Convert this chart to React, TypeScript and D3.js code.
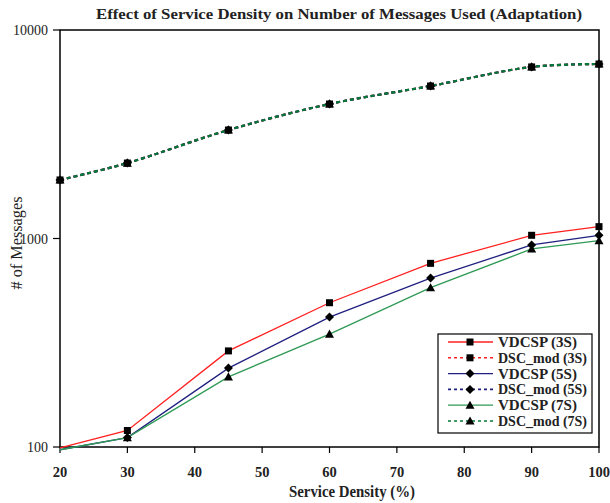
import React from "react";
import * as d3 from "d3";

// Service density (%) along the x axis
const densities = [20, 30, 45, 60, 75, 90, 100];

// Number of messages used for each configuration
const vdcsp3S = [99, 120, 289, 492, 760, 1036, 1140];
const dscMod3S = [1909, 2301, 3314, 4416, 5389, 6651, 6871];
const vdcsp5S = [97, 111, 239, 420, 646, 931, 1036];
const dscMod5S = [1909, 2301, 3314, 4416, 5389, 6651, 6871];
const vdcsp7S = [97, 111, 217, 348, 581, 891, 976];
const dscMod7S = [1909, 2301, 3314, 4416, 5389, 6651, 6871];

const xTicks = [20, 30, 40, 50, 60, 70, 80, 90, 100];
const yTicks = [100, 1000, 10000];

type Marker = "square" | "diamond" | "triangle";

interface Series {
  name: string;
  values: number[];
  color: string;
  dashed: boolean;
  marker: Marker;
}

const series: Series[] = [
  { name: "VDCSP (3S)", values: vdcsp3S, color: "#ff2020", dashed: false, marker: "square" },
  { name: "DSC_mod (3S)", values: dscMod3S, color: "#ff2020", dashed: true, marker: "square" },
  { name: "VDCSP (5S)", values: vdcsp5S, color: "#202080", dashed: false, marker: "diamond" },
  { name: "DSC_mod (5S)", values: dscMod5S, color: "#202080", dashed: true, marker: "diamond" },
  { name: "VDCSP (7S)", values: vdcsp7S, color: "#2e9a55", dashed: false, marker: "triangle" },
  { name: "DSC_mod (7S)", values: dscMod7S, color: "#007a35", dashed: true, marker: "triangle" },
];

const W = 610;
const H = 503;
const margin = { left: 60, right: 11, top: 30, bottom: 56 };
const FONT = "'Liberation Serif', 'Times New Roman', serif";

function MarkerShape({ kind, x, y }: { kind: Marker; x: number; y: number }) {
  if (kind === "square") {
    return <rect x={x - 3.5} y={y - 3.5} width={7} height={7} fill="#000" />;
  }
  if (kind === "diamond") {
    const r = 4.5;
    return <path d={`M${x},${y - r}L${x + r},${y}L${x},${y + r}L${x - r},${y}Z`} fill="#000" />;
  }
  const r = 4.5;
  return <path d={`M${x},${y - r}L${x + r},${y + r * 0.8}L${x - r},${y + r * 0.8}Z`} fill="#000" />;
}

export default function App() {
  const x = d3.scaleLinear().domain([20, 100]).range([margin.left, W - margin.right]);
  const y = d3.scaleLog().domain([100, 10000]).range([H - margin.bottom, margin.top]);
  const x0 = x.range()[0];
  const x1 = x.range()[1];
  const y0 = y.range()[0];
  const y1 = y.range()[1];

  const solidLine = d3
    .line<number>()
    .x((_, i) => x(densities[i]))
    .y((v) => y(v))
    .curve(d3.curveLinear);
  const smoothLine = d3
    .line<number>()
    .x((_, i) => x(densities[i]))
    .y((v) => y(v))
    .curve(d3.curveCatmullRom.alpha(0.5));

  const legend = { x: 438, y: 334, w: 154, h: 99, row: 15.8 };

  return (
    <svg
      width={W}
      height={H}
      style={{ position: "absolute", left: 0, top: 0, background: "#fff" }}
      fontFamily={FONT}
    >
      <rect width={W} height={H} fill="#fff" />
      {/* title */}
      <text
        x={339}
        y={19}
        textAnchor="middle"
        fontSize={15}
        fontWeight="bold"
        fill="#222"
        textLength={486}
        lengthAdjust="spacingAndGlyphs"
      >
        Effect of Service Density on Number of Messages Used (Adaptation)
      </text>

      {/* plot frame */}
      <rect x={x0} y={y1} width={x1 - x0} height={y0 - y1} fill="none" stroke="#000" strokeWidth={1.5} />

      {/* y ticks */}
      {yTicks.map((t) => (
        <g key={t}>
          <line x1={x0 - 7} x2={x0} y1={y(t)} y2={y(t)} stroke="#000" strokeWidth={1.2} />
          <text x={x0 - 12} y={y(t) + 5} textAnchor="end" fontSize={14} fill="#222">
            {t}
          </text>
        </g>
      ))}

      {/* x ticks */}
      {xTicks.map((t) => (
        <g key={t}>
          <line x1={x(t)} x2={x(t)} y1={y0} y2={y0 + 6} stroke="#000" strokeWidth={1.2} />
          <text x={x(t)} y={477} textAnchor="middle" fontSize={14.5} fontWeight="bold" fill="#222">
            {t}
          </text>
        </g>
      ))}

      {/* axis titles */}
      <text
        x={352}
        y={497}
        textAnchor="middle"
        fontSize={16}
        fontWeight="bold"
        fill="#222"
        textLength={126}
        lengthAdjust="spacingAndGlyphs"
      >
        Service Density (%)
      </text>
      <text
        transform={`translate(22,243) rotate(-90)`}
        textAnchor="middle"
        fontSize={16}
        fill="#222"
        textLength={93}
        lengthAdjust="spacingAndGlyphs"
      >
        # of Messages
      </text>

      {/* series lines */}
      {series.map((s) => (
        <path
          key={s.name}
          d={(s.dashed ? smoothLine : solidLine)(s.values) || ""}
          fill="none"
          stroke={s.color}
          strokeWidth={s.dashed ? 2.2 : 1.3}
          strokeDasharray={s.dashed ? "4,3" : undefined}
        />
      ))}

      {/* series markers (drawn only inside the value range) */}
      {series.map((s) =>
        s.values.map((v, i) =>
          v >= 100 ? (
            <MarkerShape key={`${s.name}-${i}`} kind={s.marker} x={x(densities[i])} y={y(v)} />
          ) : null
        )
      )}

      {/* legend */}
      <rect x={legend.x} y={legend.y} width={legend.w} height={legend.h} fill="#fff" stroke="#000" strokeWidth={1.2} />
      {series.map((s, i) => {
        const cy = legend.y + 8 + i * legend.row;
        return (
          <g key={`lg-${s.name}`}>
            <line
              x1={448}
              x2={493}
              y1={cy}
              y2={cy}
              stroke={s.color}
              strokeWidth={s.dashed ? 1.6 : 1.3}
              strokeDasharray={s.dashed ? "3,3" : undefined}
            />
            <MarkerShape kind={s.marker} x={470} y={cy} />
            <text
              x={498}
              y={cy + 5}
              fontSize={14.5}
              fontWeight="bold"
              fill="#222"
              textLength={s.dashed ? 89 : 79}
              lengthAdjust="spacingAndGlyphs"
            >
              {s.name}
            </text>
          </g>
        );
      })}
    </svg>
  );
}
